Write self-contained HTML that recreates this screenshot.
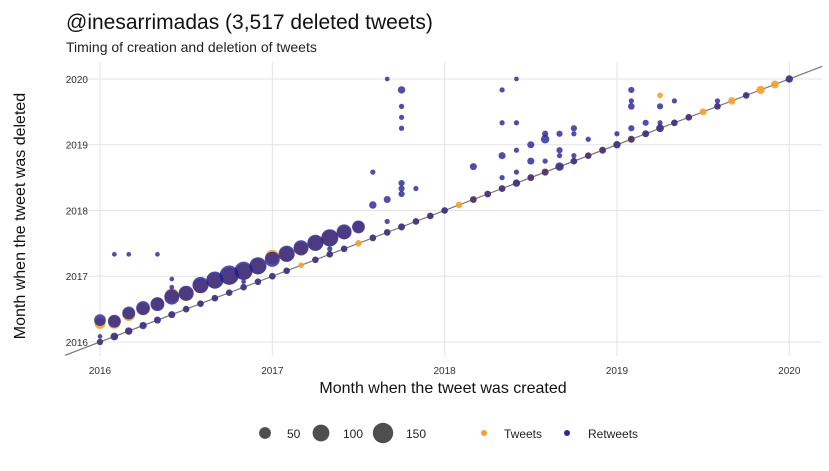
<!DOCTYPE html>
<html><head><meta charset="utf-8">
<style>
body{margin:0;background:#fff;font-family:"Liberation Sans",sans-serif;}
svg text{font-family:"Liberation Sans",sans-serif;}
</style></head>
<body>
<svg id="chart" width="829" height="466" xmlns="http://www.w3.org/2000/svg">
<text x="66" y="29" font-size="21" fill="#111">@inesarrimadas (3,517 deleted tweets)</text>
<text x="66" y="52" font-size="14" fill="#222">Timing of creation and deletion of tweets</text>
<g id="grid"></g>
<g id="marks"></g>
<text x="443" y="393" font-size="16" text-anchor="middle" fill="#111">Month when the tweet was created</text>
<text transform="translate(25,216) rotate(-90)" font-size="16" text-anchor="middle" fill="#111">Month when the tweet was deleted</text>
<g>
<circle cx="265" cy="433" r="5.9" fill="#222" fill-opacity="0.8"/>
<text x="287" y="438" font-size="12" fill="#222">50</text>
<circle cx="321" cy="433" r="8.4" fill="#222" fill-opacity="0.8"/>
<text x="343" y="438" font-size="12" fill="#222">100</text>
<circle cx="383" cy="433" r="10.2" fill="#222" fill-opacity="0.8"/>
<text x="406" y="438" font-size="12" fill="#222">150</text>
<circle cx="484" cy="433" r="3" fill="#f5a030"/>
<text x="504" y="438" font-size="12" fill="#222">Tweets</text>
<circle cx="567" cy="433" r="3" fill="#2a2a9a"/>
<text x="588" y="438" font-size="12" fill="#222">Retweets</text>
</g>
</svg>
<script>
const yearTicks=[2016,2017,2018,2019,2020];
// months since Jan 2016
const twCreated=[0,1,2,3,4,5,6,7,8,9,10,11,12,13,14,15,16,17,18,
0,1,2,3,4,5,6,7,8,9,10,11,12,13,14,15,16,17,18,19,20,21,22,23,24,25,26,27,28,29,30,31,32,33,34,35,36,37,38,39,40,41,42,43,44,45,46,47,48,39];
const twDeleted=[3.4,3.6,5,6,7,8.5,8.8,10.2,11.2,12,12.8,13.8,15.5,16,17,18,19,20,21,
0,1,2,3,4,5,6,7,8,9,10,11,12,13,14,15,16,17,18,19,20,21,22,23,24,25,26,27,28,29,30,31,32,33,34,35,36,37,38,39,40,41,42,43,44,45,46,47,48,45];
const twCount=[45,60,60,60,60,75,80,80,90,110,100,90,75,80,70,80,90,70,50,
14,16,20,14,14,16,14,14,14,14,14,14,14,14,12,14,14,14,16,16,16,16,16,16,14,16,18,18,18,18,18,20,16,16,16,20,16,20,14,20,16,16,18,14,20,14,26,22,14,12];
const rtCreated=[0,1,2,3,4,5,6,7,8,9,10,11,12,13,14,15,16,17,18,
0,0,1,2,3,4,5,6,7,8,9,10,11,12,13,15,16,17,19,20,21,22,23,24,26,27,28,29,30,31,32,33,34,35,36,37,38,39,40,41,43,45,48,
1,2,4,5,5,10,16,19,20,21,21,21,21,19,20,20,21,21,21,22,28,29,28,29,26,28,28,29,29,30,30,31,31,31,32,32,32,33,33,33,34,36,37,37,37,37,38,39,39,40,43];
const rtDeleted=[4.0,3.8,5.3,6.2,6.9,8.2,8.9,10.4,11.3,12.2,13.0,13.9,15.1,16.1,17.2,18.1,19.0,20.1,21.0,
0,1,1,2,3,4,5,6,7,8,9,10,11,12,13,15,16,17,19,20,21,22,23,24,26,27,28,29,30,31,32,33,34,35,36,37,38,39,40,41,43,45,48,
16,16,16,11.5,10,11,17,25,48,46,43,41,39,31,26,22,29,28,27,28,46,48,40,40,32,34,30,35,31,36,33,38,37,33,38,35,34,39,38,34,37,38,46,44,43,39,40,43,40,44,44];
const rtCount=[50,60,60,70,70,82,82,95,108,135,120,108,82,95,82,95,108,82,60,
14,8,22,20,20,18,18,16,16,16,16,16,16,16,16,16,16,16,16,16,18,16,16,16,16,16,16,20,16,16,26,16,16,16,20,16,18,22,16,16,16,16,20,
8,8,8,8,8,8,10,20,8,20,10,10,10,10,18,10,14,14,14,10,10,8,10,10,18,18,10,10,10,18,18,14,26,10,14,14,10,14,10,10,10,10,14,10,16,14,14,14,10,10,10];
const NS='http://www.w3.org/2000/svg';
const xS=m=>100+m*14.36, yS=d=>342-d*5.48;
const rS=n=>0.83*Math.sqrt(n);
const grid=document.getElementById('grid'), marks=document.getElementById('marks');
function mk(tag,attrs,parent){const e=document.createElementNS(NS,tag);for(const k in attrs)e.setAttribute(k,attrs[k]);parent.appendChild(e);return e;}
yearTicks.forEach((yr,i)=>{
  const m=(yr-2016)*12;
  const v=mk('line',{x1:xS(m),x2:xS(m),y1:62,y2:356,stroke:'#e3e3e3','stroke-width':1},grid);
  
  
  const h=mk('line',{x1:65,x2:822,y1:yS(m),y2:yS(m),stroke:'#e3e3e3','stroke-width':1},grid);
  
  
  const tx=mk('text',{x:xS(m),y:374,'font-size':10,'text-anchor':'middle',fill:'#333'},grid);
  tx.textContent=yr;
  
  
  const ty=mk('text',{x:88,y:yS(m)+4,'font-size':10,'text-anchor':'end',fill:'#333'},grid);
  ty.textContent=yr;
  
  
});
const diag=mk('line',{x1:xS(-2.44),y1:yS(-2.44),x2:xS(50.3),y2:yS(50.3),stroke:'#777','stroke-width':1.2},marks);


twCreated.forEach((c,i)=>{
  const e=mk('circle',{cx:xS(c),cy:yS(twDeleted[i]),r:rS(twCount[i]),fill:'#f5a030','fill-opacity':0.9},marks);
  
  
});
rtCreated.forEach((c,i)=>{
  const e=mk('circle',{cx:xS(c),cy:yS(rtDeleted[i]),r:rS(rtCount[i]),fill:'#1c1c94','fill-opacity':0.78},marks);
  
  
});
</script>
</body></html>
